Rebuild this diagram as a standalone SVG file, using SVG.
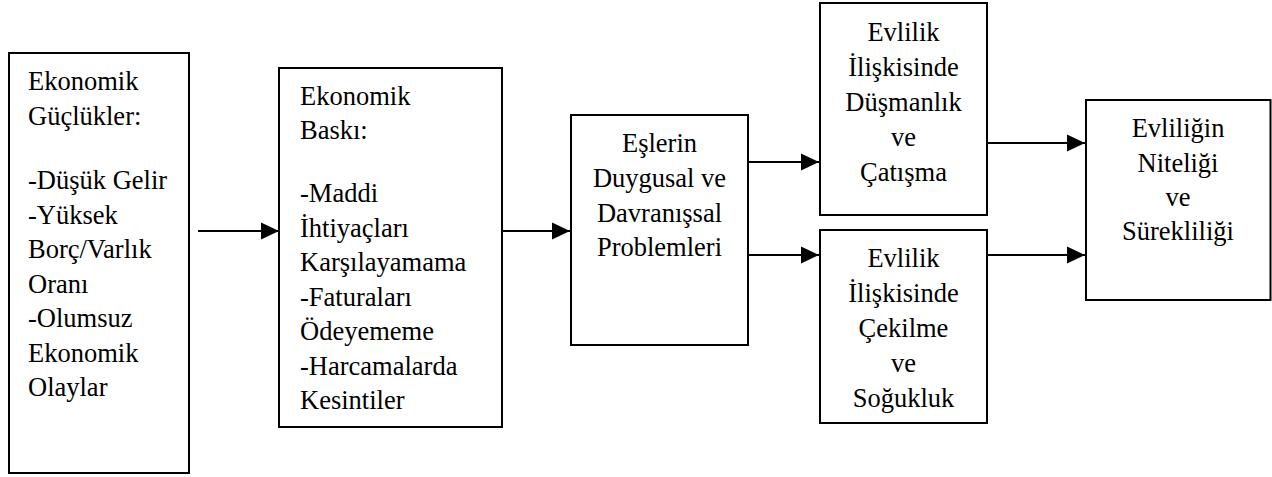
<svg xmlns="http://www.w3.org/2000/svg" width="1272" height="477" viewBox="0 0 1272 477">
<style>
.box{fill:#fff;stroke:#000;stroke-width:2}
.t{font-family:"Liberation Serif","Times New Roman","DejaVu Serif",serif;font-size:26.5px;fill:#000}
.c{text-anchor:middle}
.con{stroke:#000;stroke-width:2.2;fill:none}
</style>
<defs>
<marker id="ah" markerUnits="userSpaceOnUse" markerWidth="18" markerHeight="18" refX="16" refY="8" orient="auto" viewBox="0 0 16 16">
<path d="M0,0.5 L16,8 L0,15.5 Z" fill="#000"/>
</marker>
</defs>
<rect width="1272" height="477" fill="#fff"/>
<g id="connectors">
<path class="con" d="M198,231 H279" marker-end="url(#ah)"/>
<path class="con" d="M502,231 H570" marker-end="url(#ah)"/>
<path class="con" d="M748,162 H819" marker-end="url(#ah)"/>
<path class="con" d="M748,255 H819" marker-end="url(#ah)"/>
<path class="con" d="M987,143 H1085" marker-end="url(#ah)"/>
<path class="con" d="M987,255 H1085" marker-end="url(#ah)"/>
</g>
<g id="n1">
<rect class="box" x="9" y="53" width="180" height="420"/>
<text class="t"><tspan x="28" y="90">Ekonomik</tspan><tspan x="28" y="124.5">Güçlükler:</tspan><tspan x="28" y="189">-Düşük Gelir</tspan><tspan x="28" y="223.5">-Yüksek</tspan><tspan x="28" y="258">Borç/Varlık</tspan><tspan x="28" y="292.5">Oranı</tspan><tspan x="28" y="327">-Olumsuz</tspan><tspan x="28" y="361.5">Ekonomik</tspan><tspan x="28" y="396">Olaylar</tspan></text>
</g>
<g id="n2">
<rect class="box" x="279" y="68" width="223" height="359"/>
<text class="t"><tspan x="300" y="105">Ekonomik</tspan><tspan x="300" y="139">Baskı:</tspan><tspan x="300" y="202">-Maddi</tspan><tspan x="300" y="236.5">İhtiyaçları</tspan><tspan x="300" y="271">Karşılayamama</tspan><tspan x="300" y="305.5">-Faturaları</tspan><tspan x="300" y="340">Ödeyememe</tspan><tspan x="300" y="374.5">-Harcamalarda</tspan><tspan x="300" y="409">Kesintiler</tspan></text>
</g>
<g id="n3">
<rect class="box" x="571" y="115" width="177" height="230"/>
<text class="t c"><tspan x="659.5" y="152">Eşlerin</tspan><tspan x="659.5" y="187">Duygusal ve</tspan><tspan x="659.5" y="221.5">Davranışsal</tspan><tspan x="659.5" y="256">Problemleri</tspan></text>
</g>
<g id="n4">
<rect class="box" x="820" y="3" width="167" height="212"/>
<text class="t c"><tspan x="903.5" y="41">Evlilik</tspan><tspan x="903.5" y="76">İlişkisinde</tspan><tspan x="903.5" y="111">Düşmanlık</tspan><tspan x="903.5" y="146">ve</tspan><tspan x="903.5" y="181">Çatışma</tspan></text>
</g>
<g id="n5">
<rect class="box" x="820" y="230" width="167" height="193"/>
<text class="t c"><tspan x="903.5" y="267">Evlilik</tspan><tspan x="903.5" y="302">İlişkisinde</tspan><tspan x="903.5" y="337">Çekilme</tspan><tspan x="903.5" y="372">ve</tspan><tspan x="903.5" y="407">Soğukluk</tspan></text>
</g>
<g id="n6">
<rect class="box" x="1086" y="100" width="184.5" height="200"/>
<text class="t c"><tspan x="1178" y="137">Evliliğin</tspan><tspan x="1178" y="172">Niteliği</tspan><tspan x="1178" y="206">ve</tspan><tspan x="1178" y="240">Sürekliliği</tspan></text>
</g>
</svg>
